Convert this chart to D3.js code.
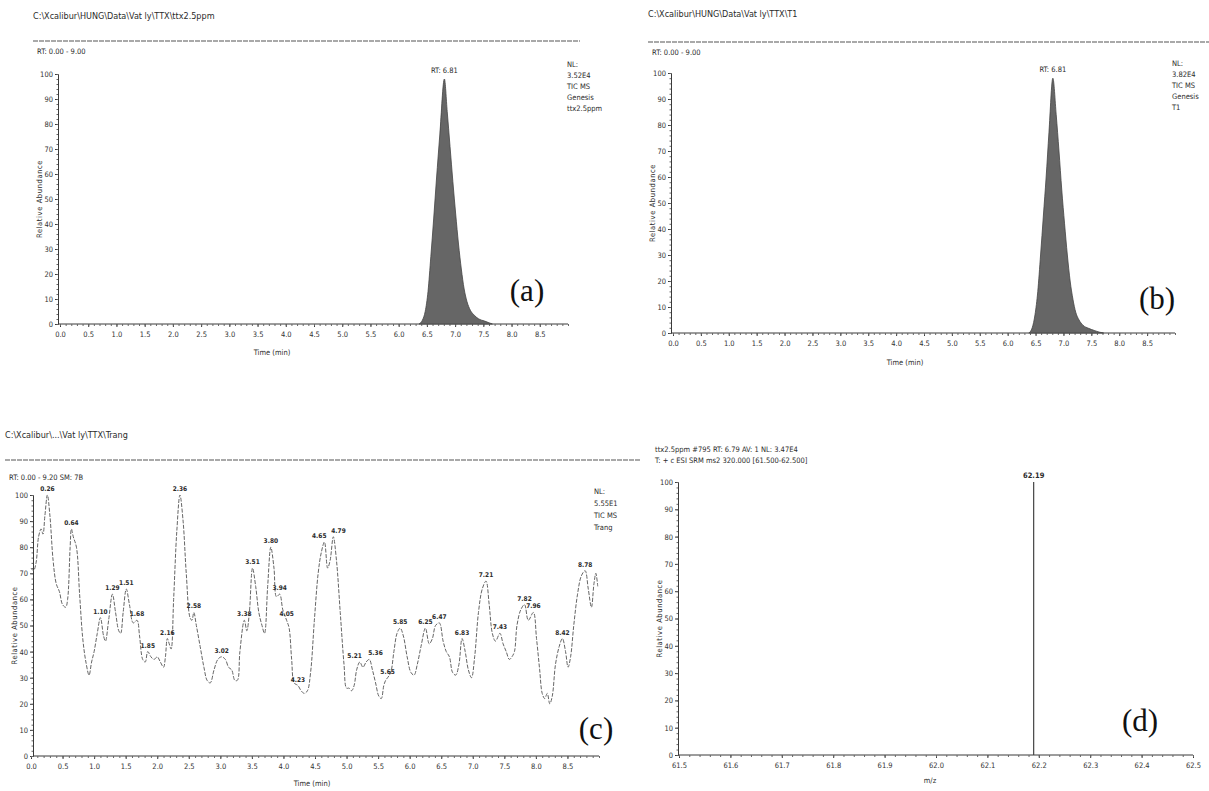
<!DOCTYPE html>
<html>
<head>
<meta charset="utf-8">
<script src="https://cdn.jsdelivr.net/npm/d3@7"></script>
<style>
  body { margin: 0; background: #fff; }
  svg text { font-family: "Liberation Sans Narrow", "DejaVu Sans Condensed", "Liberation Sans", sans-serif; fill: #2b2b2b; }
  svg text.tag { font-family: "Liberation Serif", "Times New Roman", serif; fill: #111; }
</style>
</head>
<body>
<svg id="chart" width="1209" height="791"></svg>
<script>
// ---- tick labels ----
const abundTicks = [0, 10, 20, 30, 40, 50, 60, 70, 80, 90, 100];
const timeTicks = [0.0, 0.5, 1.0, 1.5, 2.0, 2.5, 3.0, 3.5, 4.0, 4.5, 5.0, 5.5, 6.0, 6.5, 7.0, 7.5, 8.0, 8.5];
const mzTicks = [61.5, 61.6, 61.7, 61.8, 61.9, 62.0, 62.1, 62.2, 62.3, 62.4, 62.5];

// ---- (a) ttx 2.5 ppm TIC ----
const peakATime  = [6.36, 6.42, 6.47, 6.52, 6.57, 6.62, 6.67, 6.73, 6.81, 6.86, 6.91, 6.96, 7.01, 7.06, 7.11, 7.16, 7.21, 7.27, 7.34, 7.42, 7.52, 7.60, 7.66];
const peakAAbund = [0, 1.5, 5, 13, 27, 42, 58, 76, 98, 85, 71, 57, 44, 32, 22, 14, 9, 5.5, 3.5, 2, 1.2, 0.5, 0];
const infoA = ["NL:", "3.52E4", "TIC MS", "Genesis", "ttx2.5ppm"];

// ---- (b) T1 TIC ----
const peakBTime  = [6.38, 6.44, 6.49, 6.54, 6.59, 6.64, 6.69, 6.74, 6.81, 6.87, 6.92, 6.97, 7.02, 7.07, 7.12, 7.17, 7.22, 7.28, 7.35, 7.45, 7.55, 7.65, 7.72];
const peakBAbund = [0, 2, 7, 16, 30, 45, 60, 77, 98, 84, 70, 55, 42, 30, 20, 13, 8, 5, 3, 1.8, 1, 0.3, 0];
const infoB = ["NL:", "3.82E4", "TIC MS", "Genesis", "T1"];

// ---- (c) blank (Trang) TIC ----
const trangTime = [0.00, 0.04, 0.08, 0.12, 0.16, 0.19, 0.22, 0.26, 0.30, 0.35, 0.40, 0.45, 0.50, 0.55, 0.58, 0.62, 0.64, 0.67, 0.72, 0.77,
  0.82, 0.87, 0.92, 0.96, 1.00, 1.05, 1.10, 1.15, 1.18, 1.23, 1.29, 1.34, 1.39, 1.42, 1.46, 1.51, 1.56, 1.62, 1.68, 1.72,
  1.77, 1.81, 1.85, 1.90, 1.95, 2.00, 2.05, 2.10, 2.13, 2.16, 2.19, 2.22, 2.26, 2.31, 2.36, 2.41, 2.46, 2.52, 2.55, 2.58,
  2.62, 2.68, 2.74, 2.79, 2.84, 2.90, 2.96, 3.02, 3.08, 3.13, 3.18, 3.23, 3.27, 3.31, 3.38, 3.42, 3.46, 3.51, 3.56, 3.61,
  3.66, 3.70, 3.75, 3.80, 3.85, 3.89, 3.94, 3.99, 4.05, 4.09, 4.13, 4.17, 4.23, 4.28, 4.33, 4.38, 4.43, 4.49, 4.55, 4.60,
  4.65, 4.70, 4.74, 4.79, 4.84, 4.90, 4.96, 5.00, 5.04, 5.08, 5.12, 5.16, 5.21, 5.26, 5.31, 5.36, 5.41, 5.46, 5.51, 5.55,
  5.59, 5.62, 5.65, 5.70, 5.75, 5.80, 5.85, 5.90, 5.96, 6.02, 6.07, 6.12, 6.18, 6.25, 6.31, 6.36, 6.41, 6.47, 6.53, 6.58,
  6.63, 6.68, 6.73, 6.78, 6.83, 6.88, 6.93, 6.98, 7.03, 7.09, 7.15, 7.21, 7.26, 7.31, 7.36, 7.43, 7.48, 7.53, 7.58, 7.62,
  7.66, 7.70, 7.76, 7.82, 7.88, 7.96, 8.01, 8.06, 8.10, 8.14, 8.18, 8.22, 8.26, 8.31, 8.37, 8.42, 8.47, 8.51, 8.55, 8.60,
  8.66, 8.72, 8.78, 8.83, 8.88, 8.92, 8.95, 8.98];
const trangAbund = [72, 71, 74, 84, 87, 85, 92, 100, 92, 75, 66, 63, 58, 57, 60, 80, 87, 84, 80, 62,
  45, 36, 31, 36, 40, 47, 53, 46, 44, 52, 62, 55, 48, 47, 55, 64, 58, 51, 52, 46,
  37, 36, 40, 38, 37, 38, 36, 34, 38, 45, 43, 41, 60, 86, 100, 90, 70, 53, 52, 55,
  50, 42, 34, 29, 28, 33, 37, 38, 37, 34, 33, 29, 29, 40, 52, 48, 55, 72, 65, 55,
  50, 47, 65, 80, 72, 61, 62, 56, 52, 49, 37, 28, 27, 25, 24, 25, 32, 52, 70, 78,
  82, 72, 75, 84, 75, 55, 35, 26, 26, 25, 27, 33, 36, 34, 36, 37, 33, 28, 23, 22,
  27, 29, 30, 32, 40, 47, 49, 46, 38, 32, 31, 35, 42, 49, 43, 45, 50, 51, 44, 40,
  38, 32, 31, 35, 45, 40, 33, 30, 38, 55, 64, 67, 58, 47, 44, 47, 43, 40, 37, 38,
  40, 50, 56, 58, 52, 55, 45, 33, 24, 22, 24, 20, 23, 35, 42, 45, 40, 34, 38, 50,
  62, 69, 71, 64, 57, 66, 70, 65];
const trangPeaks = [0.26, 0.64, 1.10, 1.29, 1.51, 1.68, 1.85, 2.16, 2.36, 2.58, 3.02, 3.38, 3.51, 3.80, 3.94, 4.05,
  4.23, 4.65, 4.79, 5.21, 5.36, 5.65, 5.85, 6.25, 6.47, 6.83, 7.21, 7.43, 7.82, 7.96, 8.42, 8.78];
const infoC = ["NL:", "5.55E1", "TIC MS", "Trang"];

// ---- (d) mass spectrum at RT 6.79 ----
const msMz = [62.19];
const msAbund = [100];
const headerD = ["ttx2.5ppm #795  RT: 6.79  AV: 1  NL: 3.47E4", "T: + c ESI SRM ms2 320.000 [61.500-62.500]"];

const svg = d3.select("#chart");
const ink = "#3a3a3a";

function drawAxes(g, x, y, xTicks, xMinorStep, fmt, xTitle, titleXY, axisX) {
  const [x0, x1] = x.domain();
  // y axis: major + dotted minor ticks
  g.append("g")
    .attr("transform", `translate(${axisX},0)`)
    .call(d3.axisLeft(y).tickValues(abundTicks).tickSize(3).tickPadding(2).tickFormat(d3.format("d")))
    .call(a => a.select(".domain").attr("stroke", ink))
    .call(a => a.selectAll(".tick line").attr("stroke", ink))
    .call(a => a.selectAll("text").attr("font-size", 7.5).style("fill", "#333"));
  g.append("g")
    .attr("transform", `translate(${axisX},0)`)
    .call(d3.axisLeft(y).tickValues(d3.range(0, 101, 2)).tickSize(1.5).tickFormat(""))
    .call(a => a.select(".domain").remove())
    .call(a => a.selectAll(".tick line").attr("stroke", "#666"));

  // x axis
  const base = y(0);
  g.append("g")
    .attr("transform", `translate(0,${base})`)
    .call(d3.axisBottom(x).tickValues(xTicks).tickSize(3).tickPadding(5).tickFormat(fmt))
    .call(a => a.select(".domain").attr("stroke", ink).attr("d", `M${axisX},0H${x.range()[1]}`))
    .call(a => a.selectAll(".tick line").attr("stroke", ink))
    .call(a => a.selectAll("text").attr("font-size", 7.5).style("fill", "#333"));
  g.append("g")
    .attr("transform", `translate(0,${base})`)
    .call(d3.axisBottom(x).tickValues(d3.range(x0, x1 + 1e-9, xMinorStep)).tickSize(2).tickFormat(""))
    .call(a => a.select(".domain").remove())
    .call(a => a.selectAll(".tick line").attr("stroke", "#666"));

  g.append("text").attr("x", titleXY[0]).attr("y", titleXY[1])
    .attr("text-anchor", "middle").attr("font-size", 7.5).text(xTitle);

  const [yb, yt] = y.range();
  g.append("text")
    .attr("transform", `translate(${axisX - 16},${(yb + yt) / 2}) rotate(-90)`)
    .attr("text-anchor", "middle").attr("font-size", 7.5).attr("letter-spacing", 0.6)
    .text("Relative Abundance");
}

function drawInfo(g, lines, x, y0, step) {
  g.append("g").selectAll("text").data(lines).join("text")
    .attr("x", x).attr("y", (d, i) => y0 + i * step)
    .attr("font-size", 7.5).text(d => d);
}

function drawPeakPanel(time, abund, xr, yr, info, infoX, tag, tagXY, head) {
  const g = svg.append("g");
  const x = d3.scaleLinear().domain([0, 9]).range(xr);
  const y = d3.scaleLinear().domain([0, 100]).range(yr);
  const pts = time.map((t, i) => [t, abund[i]]);

  g.append("text").attr("x", head.x).attr("y", head.y).attr("font-size", 9).text(head.path);
  g.append("line").attr("x1", head.x).attr("x2", head.ruleEnd).attr("y1", head.rule).attr("y2", head.rule)
    .attr("stroke", "#555").attr("stroke-width", 1.2).attr("stroke-dasharray", "5,1");
  g.append("text").attr("x", head.x + 4).attr("y", head.rule + 13).attr("font-size", 7.5).text("RT: 0.00 - 9.00");

  drawAxes(g, x, y, timeTicks, 0.1, d3.format(".1f"), "Time (min)", head.timeXY, xr[0] - 2);

  g.append("path").datum(pts)
    .attr("fill", "#666").attr("stroke", "#444").attr("stroke-width", 0.8)
    .attr("d", d3.area().x(d => x(d[0])).y0(y(0)).y1(d => y(d[1])).curve(d3.curveMonotoneX));

  const top = pts.reduce((a, b) => (b[1] > a[1] ? b : a));
  g.append("text").attr("x", x(top[0])).attr("y", y(top[1]) - 6)
    .attr("text-anchor", "middle").attr("font-size", 7.5).text("RT: " + top[0].toFixed(2));

  drawInfo(g, info, infoX, yr[1] - 7, 11);
  g.append("text").attr("class", "tag").attr("x", tagXY[0]).attr("y", tagXY[1])
    .attr("text-anchor", "middle").attr("font-size", 31).text(tag);
}

// (a)
drawPeakPanel(peakATime, peakAAbund, [60, 568], [324, 74], infoA, 567, "(a)", [527, 301],
  { path: "C:\\Xcalibur\\HUNG\\Data\\Vat ly\\TTX\\ttx2.5ppm", x: 33, y: 19, rule: 41, ruleEnd: 580, timeXY: [272, 355] });
// (b)
drawPeakPanel(peakBTime, peakBAbund, [673, 1175], [333, 73], infoB, 1172, "(b)", [1157, 309],
  { path: "C:\\Xcalibur\\HUNG\\Data\\Vat ly\\TTX\\T1", x: 648, y: 17, rule: 42, ruleEnd: 1209, timeXY: [905, 365] });

// (c) blank chromatogram
{
  const g = svg.append("g");
  const x = d3.scaleLinear().domain([0, 9]).range([31, 599]);
  const y = d3.scaleLinear().domain([0, 100]).range([756, 495]);
  const pts = trangTime.map((t, i) => [t, trangAbund[i]]);

  g.append("text").attr("x", 5).attr("y", 438).attr("font-size", 9).text("C:\\Xcalibur\\...\\Vat ly\\TTX\\Trang");
  g.append("line").attr("x1", 5).attr("x2", 640).attr("y1", 460).attr("y2", 460)
    .attr("stroke", "#555").attr("stroke-width", 1.2).attr("stroke-dasharray", "5,1");
  g.append("text").attr("x", 9).attr("y", 480).attr("font-size", 7.5).text("RT: 0.00 - 9.20   SM: 7B");

  drawAxes(g, x, y, timeTicks, 0.1, d3.format(".1f"), "Time (min)", [312, 786], 33);

  g.append("path").datum(pts)
    .attr("fill", "none").attr("stroke", "#666").attr("stroke-width", 1)
    .attr("stroke-dasharray", "4,1.5")
    .attr("d", d3.line().x(d => x(d[0])).y(d => y(d[1])).curve(d3.curveCatmullRom));

  // neighbouring labels that would collide are pushed apart sideways
  const nudge = { "4.65": ["end", 2], "4.79": ["start", -2], "5.21": ["end", 2], "5.36": ["start", -1] };
  const byTime = new Map(pts.map(p => [p[0].toFixed(2), p[1]]));
  g.append("g").selectAll("text").data(trangPeaks).join("text")
    .attr("x", d => x(d) + (nudge[d.toFixed(2)] ? nudge[d.toFixed(2)][1] : 0))
    .attr("y", d => y(byTime.get(d.toFixed(2))) - 4)
    .attr("text-anchor", d => (nudge[d.toFixed(2)] ? nudge[d.toFixed(2)][0] : "middle"))
    .attr("font-size", 6.5).attr("font-weight", "bold")
    .text(d => d.toFixed(2));

  drawInfo(g, infoC, 594, 494, 12);
  g.append("text").attr("class", "tag").attr("x", 596).attr("y", 739)
    .attr("text-anchor", "middle").attr("font-size", 31).text("(c)");
}

// (d) spectrum
{
  const g = svg.append("g");
  const x = d3.scaleLinear().domain([61.5, 62.5]).range([679, 1193]);
  const y = d3.scaleLinear().domain([0, 100]).range([755, 482]);

  g.append("g").selectAll("text").data(headerD).join("text")
    .attr("x", 655).attr("y", (d, i) => 452 + i * 11).attr("font-size", 7.5).text(d => d);

  drawAxes(g, x, y, mzTicks, 0.02, d3.format(".1f"), "m/z", [930, 783], 678);

  g.append("g").selectAll("line").data(msMz).join("line")
    .attr("x1", d => x(d)).attr("x2", d => x(d))
    .attr("y1", y(0)).attr("y2", (d, i) => y(msAbund[i]))
    .attr("stroke", "#444").attr("stroke-width", 1.2);
  g.append("g").selectAll("text").data(msMz).join("text")
    .attr("x", d => x(d)).attr("y", (d, i) => y(msAbund[i]) - 4)
    .attr("text-anchor", "middle").attr("font-size", 7.5).attr("font-weight", "bold")
    .text(d => d.toFixed(2));

  g.append("text").attr("class", "tag").attr("x", 1140).attr("y", 731)
    .attr("text-anchor", "middle").attr("font-size", 31).text("(d)");
}
</script>
</body>
</html>
